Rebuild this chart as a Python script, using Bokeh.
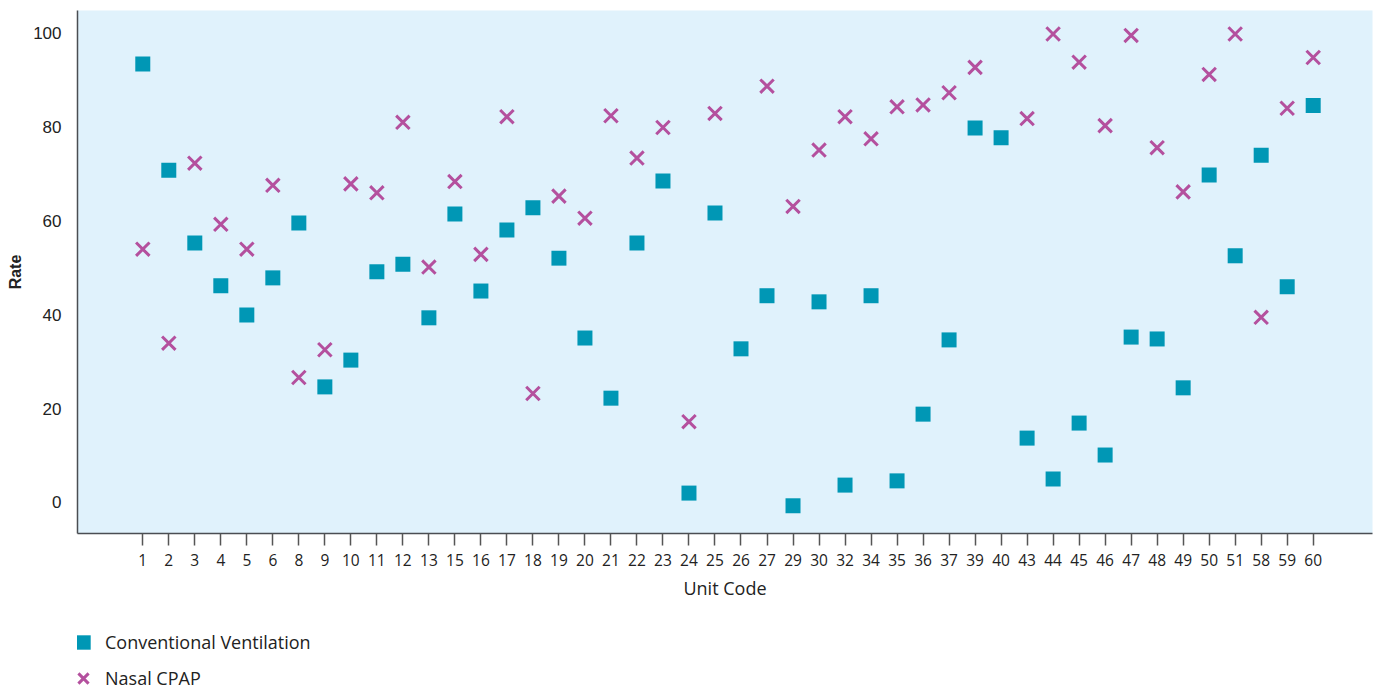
from bokeh.plotting import figure
from bokeh.layouts import column
from bokeh.models import FixedTicker, Legend, LegendItem, ColumnDataSource
from bokeh.embed import file_html
from bokeh.resources import INLINE

nan = float("nan")

units = ["1", "2", "3", "4", "5", "6", "8", "9", "10", "11", "12", "13", "15", "16",
         "17", "18", "19", "20", "21", "22", "23", "24", "25", "26", "27", "29", "30",
         "32", "34", "35", "36", "37", "39", "40", "43", "44", "45", "46", "47", "48",
         "49", "50", "51", "58", "59", "60"]

conventional = [93.3, 70.7, 55.2, 46.1, 39.9, 47.8, 59.5, 24.6, 30.3, 49.1, 50.7, 39.3,
                61.4, 45.0, 58.0, 62.7, 52.0, 35.0, 22.2, 55.2, 68.4, 2.0, 61.6, 32.7,
                44.0, -0.7, 42.7, 3.7, 44.0, 4.6, 18.8, 34.6, 79.7, 77.6, 13.7, 5.0,
                16.9, 10.1, 35.2, 34.8, 24.4, 69.7, 52.5, 73.9, 45.9, 84.5]

nasal_cpap = [53.9, 33.9, 72.2, 59.2, 53.9, 67.5, 26.6, 32.5, 67.8, 65.9, 80.9, 50.1,
              68.3, 52.8, 82.1, 23.2, 65.2, 60.5, 82.3, 73.3, 79.8, 17.2, 82.8, nan,
              88.6, 63.0, 75.0, 82.1, 77.4, 84.2, 84.6, 87.2, 92.6, nan, 81.7, 99.7,
              93.7, 80.2, 99.4, 75.5, 66.1, 91.1, 99.7, 39.4, 83.9, 94.7]

y_ticks = [0, 20, 40, 60, 80, 100]

series_names = ["Conventional Ventilation", "Nasal CPAP"]

idx = list(range(len(units)))
src = ColumnDataSource(dict(x=idx, conv=conventional, cpap=nasal_cpap))

CONV_COLOR = "#0097b5"
CPAP_COLOR = "#b4509e"
TEXT = "#222222"

p = figure(width=1374, height=607, output_backend="svg", toolbar_location=None,
           x_range=(-2.51, 47.28), y_range=(-6.6, 104.7),
           min_border_left=77, min_border_right=2, min_border_top=10,
           min_border_bottom=74,
           background_fill_color="#e0f2fc", border_fill_color="white",
           outline_line_color=None)

p.xgrid.visible = False
p.ygrid.visible = False

conv_style = dict(marker="square", size=15, fill_color=CONV_COLOR, line_color=None)
cpap_style = dict(marker="x", size=19, line_color=CPAP_COLOR, line_width=3)

r1 = p.scatter("x", "conv", source=src, **conv_style)
r2 = p.scatter("x", "cpap", source=src, **cpap_style)

# x axis
xa = p.xaxis[0]
xa.ticker = FixedTicker(ticks=idx)
xa.major_label_overrides = {i: u for i, u in enumerate(units)}
xa.major_tick_out = 12
xa.major_tick_in = 0
xa.minor_tick_out = 0
xa.minor_tick_in = 0
xa.major_tick_line_color = "#555555"
xa.major_tick_line_width = 1.5
xa.axis_line_color = "#4a4d52"
xa.axis_line_width = 1.5
xa.major_label_text_font = "Open Sans"
xa.major_label_text_font_size = "15.5px"
xa.major_label_text_color = TEXT
xa.major_label_standoff = 8
xa.axis_label = "Unit Code"
xa.axis_label_text_font = "Open Sans"
xa.axis_label_text_font_size = "18px"
xa.axis_label_text_font_style = "normal"
xa.axis_label_text_color = TEXT
xa.axis_label_standoff = 7

# y axis
ya = p.yaxis[0]
ya.ticker = FixedTicker(ticks=y_ticks)
ya.major_tick_out = 0
ya.major_tick_in = 0
ya.minor_tick_out = 0
ya.minor_tick_in = 0
ya.axis_line_color = "#4a4d52"
ya.axis_line_width = 1.5
ya.major_label_text_font = "Liberation Sans"
ya.major_label_text_font_size = "17px"
ya.major_label_text_color = TEXT
ya.major_label_standoff = 16
ya.axis_label = "Rate"
ya.axis_label_text_font = "Liberation Sans"
ya.axis_label_text_font_size = "16px"
ya.axis_label_text_font_style = "bold"
ya.axis_label_text_color = TEXT
ya.axis_label_standoff = 6

# legend strip below the chart (its own renderers share the data, but its
# ranges keep the points out of view so only the legend keys show)
lg = figure(width=1374, height=82, output_backend="svg", toolbar_location=None,
            x_range=(-100, -99), y_range=(-100, -99),
            x_axis_location=None, y_axis_location=None,
            min_border_left=0, min_border_right=0, min_border_top=0,
            min_border_bottom=0, outline_line_color=None,
            background_fill_color="white", border_fill_color="white")
lg.xgrid.visible = False
lg.ygrid.visible = False
l1 = lg.scatter("x", "conv", source=src, **conv_style)
l2 = lg.scatter("x", "cpap", source=src, **cpap_style)

legend = Legend(items=[LegendItem(label=series_names[0], renderers=[l1]),
                       LegendItem(label=series_names[1], renderers=[l2])],
                location=(-12, -7), orientation="vertical",
                glyph_width=36, glyph_height=36, spacing=0, padding=0, margin=0,
                label_standoff=4, label_text_font="Open Sans",
                label_text_font_size="18px", label_text_color=TEXT,
                background_fill_alpha=0, border_line_color=None)
lg.add_layout(legend)

layout = column(p, lg, spacing=0)

open("out.html", "w").write(file_html(layout, INLINE))
